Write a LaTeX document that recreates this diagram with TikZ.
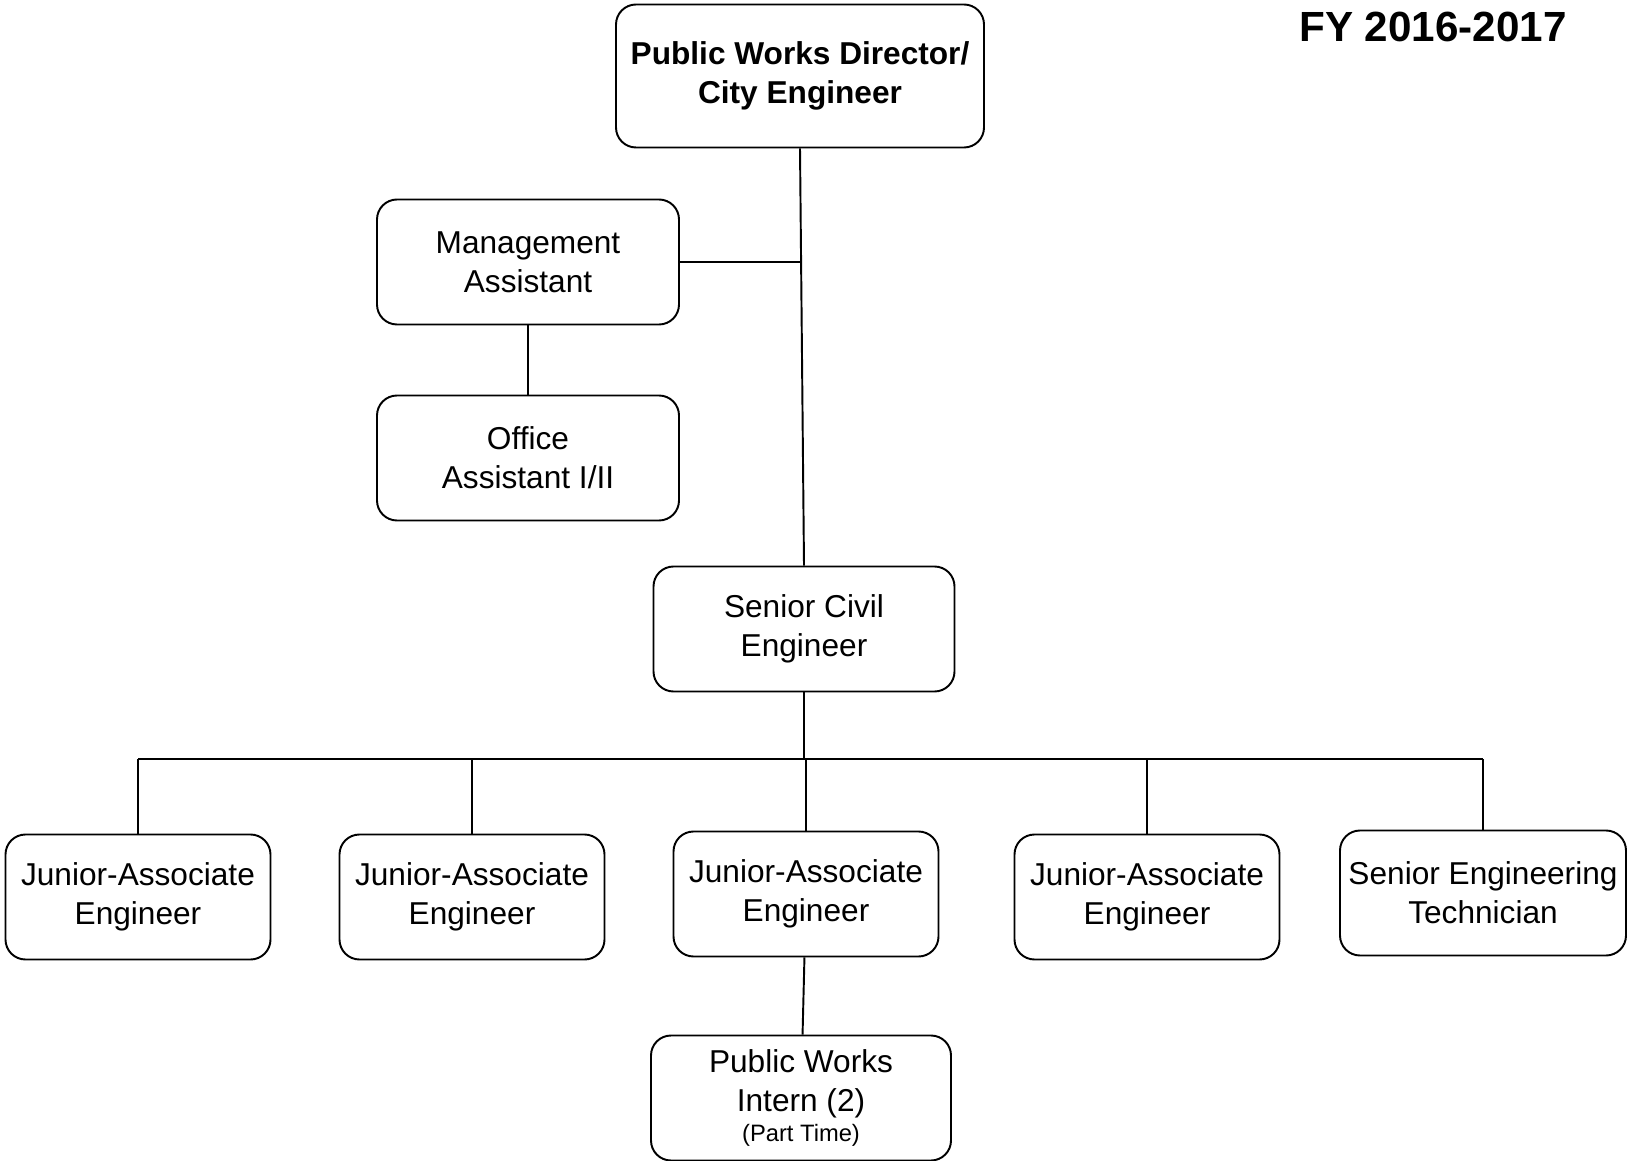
\documentclass[tikz,border=0pt]{standalone}
\usepackage{fontspec}
\setmainfont{Liberation Sans}
\usetikzlibrary{positioning}
\newcommand{\smalltxt}{\fontsize{13.5}{16}\selectfont}

\begin{document}
\begin{tikzpicture}[x=0.2mm, y=-0.2mm, line width=1.1pt,
    every node/.style={font=\fontsize{18}{22.4}\selectfont},
    post/.style={draw, rounded corners=4mm, align=center, minimum height=2.5cm, inner sep=2pt},
    jobbox/.style={post, minimum width=5.3cm}]
  \useasboundingbox (0,0) rectangle (1627,1161);
  \node[font=\bfseries\fontsize{24}{28}\selectfont] (fy) at (1433,27) {FY 2016-2017};
  \node[post, minimum width=7.36cm, minimum height=2.86cm, font=\bfseries\fontsize{18}{22.4}\selectfont] (dir) at (800,76) {Public Works Director/\\City Engineer};
  \node[post, minimum width=6.04cm] (mgmt) at (528,262) {Management\\Assistant};
  \node[post, minimum width=6.04cm] (office) at (528,458) {Office\\Assistant I/II};
  \node[post, minimum width=6.02cm] (sce) at (804,629) {Senior Civil\\Engineer};
  \node[jobbox] (jae1) at (138,897) {Junior-Associate\\Engineer};
  \node[jobbox] (jae2) at (472,897) {Junior-Associate\\Engineer};
  \node[jobbox] (jae3) at (806,894) {Junior-Associate\\Engineer};
  \node[jobbox] (jae4) at (1147,897) {Junior-Associate\\Engineer};
  \node[post, minimum width=5.72cm] (set) at (1483,893) {Senior Engineering\\Technician};
  \node[post, minimum width=6.0cm] (intern) at (801,1098) {Public Works\\Intern (2)\\[-5pt]{\smalltxt (Part Time)}};
  % reporting lines
  \coordinate (bus) at (804,759);
  \draw (dir.south) -- (sce.north);
  \draw (mgmt.east) -- (mgmt.east -| dir.south);
  \draw (mgmt) -- (office);
  \draw (sce.south) -- (bus);
  \draw (jae1.north |- bus) -- (set.north |- bus);
  \foreach \n in {jae1,jae2,jae3,jae4,set}
    \draw (\n.north) -- (\n.north |- bus);
  \draw (jae3) -- (intern);
\end{tikzpicture}
\end{document}
